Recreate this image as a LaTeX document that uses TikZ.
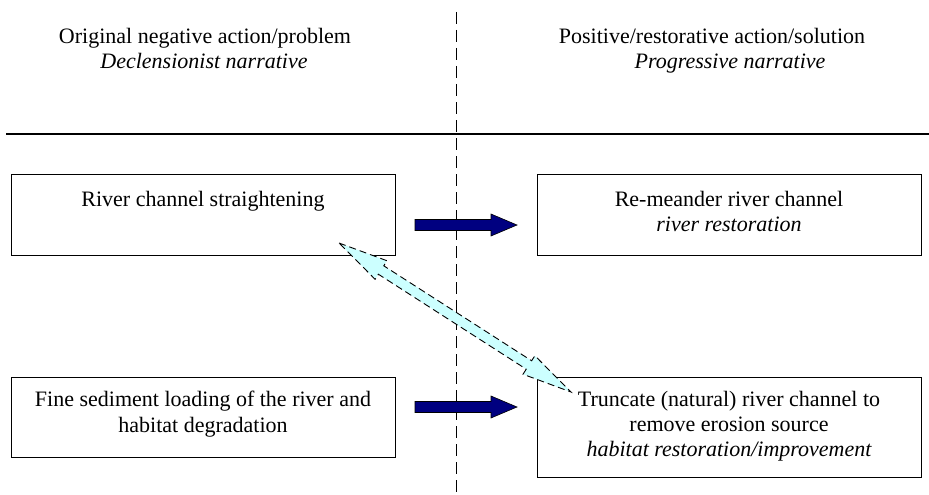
\documentclass[tikz,border=0pt]{standalone}
\usepackage{fontspec}
\setmainfont{Liberation Serif}
\usetikzlibrary{calc}
\definecolor{navyarrow}{HTML}{000080}
\definecolor{lightcyan}{HTML}{CCFFFF}
\begin{document}
\begin{tikzpicture}[x=1pt,y=-1pt,
  boxstyle/.style={draw, line width=1.3pt, inner sep=0pt, anchor=north west},
  txt/.style={anchor=base, inner sep=0pt, font=\fontsize{22}{25}\selectfont},
  itxt/.style={anchor=base, inner sep=0pt, font=\fontsize{22}{25}\selectfont\itshape},
  bluearrow/.style={fill=navyarrow, draw=black, line width=0.6pt, line join=miter},
  cyanarrow/.style={fill=lightcyan, draw=black, dash pattern=on 7pt off 4pt, line width=0.9pt, line join=miter},
  divider/.style={draw, line width=1pt, dash pattern=on 12pt off 6pt}]
\useasboundingbox (0,0) rectangle (929,495);

% divider lines
\coordinate (vtop) at (456,12);
\coordinate (vbot) at (456,495);
\draw[divider] (vtop) -- (vbot);
\coordinate (hl) at (6,134);
\coordinate (hr) at (929,134);
\draw[line width=1.4pt] (hl) -- (hr);

% headers
\node[txt] (hl1) at (205,44) {Original negative action/problem};
\node[itxt] (hl2) at (204,69) {Declensionist narrative};
\node[txt] (hr1) at (712,44) {Positive/restorative action/solution};
\node[itxt] (hr2) at (730,69) {Progressive narrative};

% boxes
\node[boxstyle, minimum width=384pt, minimum height=81pt] (b1) at (11,174) {};
\node[boxstyle, minimum width=384pt, minimum height=81pt] (b2) at (537,174) {};
\node[boxstyle, minimum width=384pt, minimum height=80pt] (b3) at (11,377) {};
\node[boxstyle, minimum width=384pt, minimum height=100pt] (b4) at (537,377) {};

\node[txt] (t1) at (203,206) {River channel straightening};
\node[txt] (t2a) at (729,206) {Re-meander river channel};
\node[itxt] (t2b) at (729,231) {river restoration};
\node[txt] (t3a) at (203,406) {Fine sediment loading of the river and};
\node[txt] (t3b) at (203,432) {habitat degradation};
\node[txt] (t4a) at (729,406) {Truncate (natural) river channel to};
\node[txt] (t4b) at (729,431) {remove erosion source};
\node[itxt] (t4c) at (729,456) {habitat restoration/improvement};

% blue block arrows
\coordinate (s1) at (415,225);
\coordinate (s2) at (415,407);
\filldraw[bluearrow] (s1) ++(0,-5.5) -- ++(76,0) -- ++(0,-5.5) -- ++(26,11) -- ++(-26,11) -- ++(0,-5.5) -- ++(-76,0) -- cycle;
\filldraw[bluearrow] (s2) ++(0,-5.5) -- ++(76,0) -- ++(0,-5.5) -- ++(26,11) -- ++(-26,11) -- ++(0,-5.5) -- ++(-76,0) -- cycle;

% cyan double arrow
\coordinate (ca) at (339,243);
\coordinate (cb) at (571,392);
\filldraw[cyanarrow] (ca) -- ($(ca)!51.2pt!12.41:(cb)$) -- ($(ca)!50.25pt!5.71:(cb)$)
  -- ($(cb)!50.25pt!-5.71:(ca)$) -- ($(cb)!51.2pt!-12.41:(ca)$) -- (cb)
  -- ($(cb)!51.2pt!12.41:(ca)$) -- ($(cb)!50.25pt!5.71:(ca)$)
  -- ($(ca)!50.25pt!-5.71:(cb)$) -- ($(ca)!51.2pt!-12.41:(cb)$) -- cycle;
\end{tikzpicture}
\end{document}
